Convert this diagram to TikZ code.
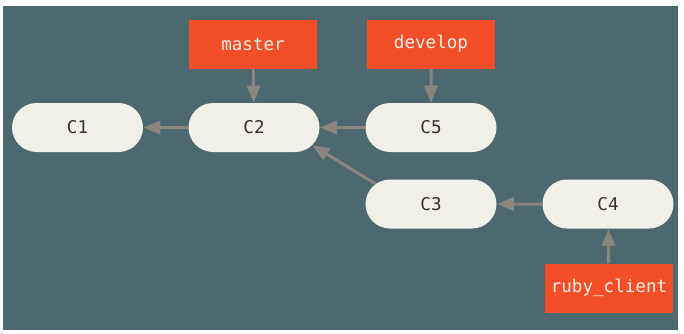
\documentclass[tikz,border=0pt]{standalone}
\usepackage{fontspec}
\setmonofont{DejaVu Sans Mono}
\usepackage{tikz}
\usetikzlibrary{arrows.meta, positioning, shapes.misc}
\usepackage{xcolor}
\definecolor{slate}{RGB}{78,104,112}
\definecolor{commitfill}{RGB}{240,239,232}
\definecolor{committext}{RGB}{55,50,45}
\definecolor{branchred}{RGB}{244,78,40}
\definecolor{arrowgray}{RGB}{140,133,125}

\begin{document}
\begin{tikzpicture}[
		commit/.style={
			rounded rectangle,
			fill=commitfill,
			text=committext,
			font=\ttfamily\fontsize{10}{12}\selectfont,
			minimum width=2.62cm,
			minimum height=0.98cm,
			inner sep=0pt
		},
		branch/.style={
			rectangle,
			fill=branchred,
			text=commitfill,
			font=\ttfamily\fontsize{10}{12}\selectfont,
			minimum width=2.56cm,
			minimum height=0.98cm,
			inner sep=0pt
		},
		arrow/.style={
			-{Triangle[length=0.34cm, width=0.26cm]},
			line width=0.06cm,
			draw=arrowgray
		}
		]
		
		% Fundo
		\useasboundingbox (0,0) rectangle (13.68,-6.66);
		\fill[slate] (0.06,-0.12) rectangle (13.56,-6.60);
		
		% Commits
		\node[commit] (c1) at (1.55,-2.55) {C1};
		\node[commit] (c2) at (5.08,-2.55) {C2};
		\node[commit] (c5) at (8.62,-2.55) {C5};
		\node[commit] (c3) at (8.62,-4.08) {C3};
		\node[commit] (c4) at (12.16,-4.08) {C4};
		
		% Branches
		\node[branch] (master) at (5.06,-0.88) {master};
		\node[branch] (develop) at (8.62,-0.88) {develop};
		\node[branch] (rubyclient) at (12.18,-5.76) {ruby\_client};
		
		% Ligações entre commits
		\draw[arrow] (c2) -- (c1);
		\draw[arrow] (c5) -- (c2);
		\draw[arrow] (c3.160) -- (c2.-17);
		\draw[arrow] (c4) -- (c3);
		
		% Ligações dos branches
		\draw[arrow] (master) -- (c2);
		\draw[arrow] (develop) -- (c5);
		\draw[arrow] (rubyclient) -- (c4);
		
	\end{tikzpicture}
\end{document}
